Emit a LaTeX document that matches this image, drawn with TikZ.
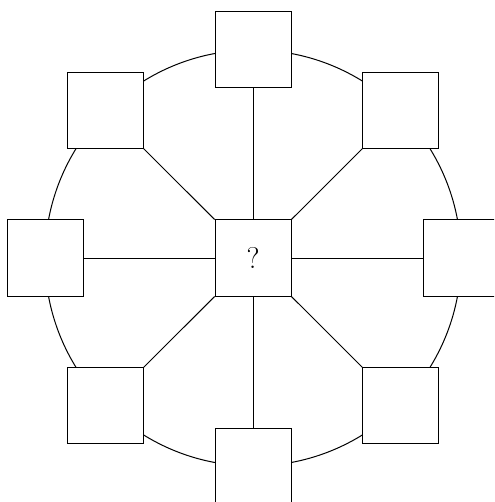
\documentclass[tikz,border=0pt]{standalone}
\usetikzlibrary{calc}
\begin{document}
\begin{tikzpicture}[x=1pt,y=-1pt,
  box/.style={draw, fill=white, minimum size=76pt, inner sep=0pt, line width=1pt},
  link/.style={line width=1pt}]
\useasboundingbox (0,0) rectangle (494,502);
\clip (0,0) rectangle (494,502);
\coordinate (o) at (253,258);
\draw[line width=1pt] (o) circle (208);
\node[box] (c) at (o) {\fontsize{30}{36}\selectfont ?};
\foreach \a/\n in {90/n,45/ne,0/e,-45/se,-90/s,-135/sw,180/w,135/nw}{
  \coordinate (p\n) at ($(o)+({208*cos(\a)},{-208*sin(\a)})$);
  \draw[link] (c) -- (p\n);
  \node[box] (b\n) at (p\n) {};
}
\end{tikzpicture}
\end{document}
